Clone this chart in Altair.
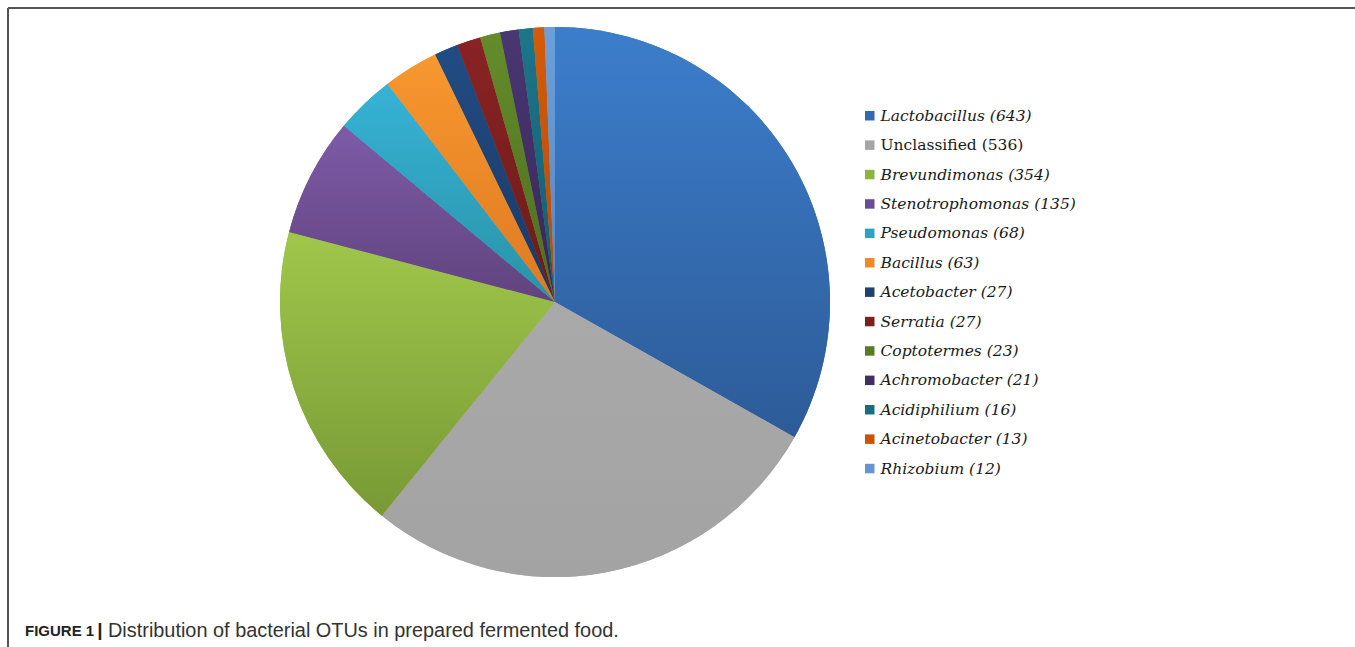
import math
import altair as alt
import pandas as pd

names = ["Lactobacillus", "Unclassified", "Brevundimonas", "Stenotrophomonas",
         "Pseudomonas", "Bacillus", "Acetobacter", "Serratia", "Coptotermes",
         "Achromobacter", "Acidiphilium", "Acinetobacter", "Rhizobium"]
counts = [643, 536, 354, 135, 68, 63, 27, 27, 23, 21, 16, 13, 12]
legend_colors = ["#3468B3", "#A5A5A5", "#8DB43F", "#6A4B94", "#2FA2C4", "#EE8A2A",
                 "#1E426F", "#7D1F1F", "#587C26", "#422F62", "#1A6C7E", "#C95309",
                 "#6596D2"]
top_colors = ["#3C7ECC", "#A9A9A9", "#A0C74B", "#7D5BA8", "#36B3D6", "#F8982F",
              "#214C84", "#8A2323", "#648C2B", "#4A3672", "#1C768A", "#D45B0A",
              "#6BA0DB"]
bottom_colors = ["#2D5B98", "#A3A3A3", "#789935", "#61437E", "#2A92A8", "#DE7922",
                 "#1A3964", "#6D1A1A", "#4E6E1F", "#392756", "#155C6C", "#B64C08",
                 "#5986BE"]

labels = [f"{n} ({c})" for n, c in zip(names, counts)]
df = pd.DataFrame({"label": labels, "count": counts, "order": list(range(len(names)))})

CX, CY, R = 555, 302, 275

base = (
    alt.Chart(df)
    .transform_joinaggregate(total="sum(count)")
    .transform_window(cum="sum(count)", sort=[alt.SortField("order")], frame=[None, 0])
    .transform_calculate(t0="(datum.cum - datum.count) / datum.total",
                         t1="datum.cum / datum.total")
)
theta_scale = alt.Scale(domain=[0, 1], range=[0, 2 * math.pi])

solid = base.mark_arc(outerRadius=R).encode(
    theta=alt.Theta("t0:Q", scale=theta_scale, stack=False),
    theta2="t1:Q",
    color=alt.Color(
        "label:N",
        scale=alt.Scale(domain=labels, range=legend_colors),
        legend=alt.Legend(
            title=None, orient="none", legendX=862, legendY=108,
            symbolType="square", symbolSize=90, symbolStrokeWidth=0,
            labelFont="DejaVu Serif", labelFontSize=15.5, labelColor="#1a1a1a",
            labelFontStyle=alt.ExprRef(expr="indexof(datum.label, 'Unclassified') == 0 ? 'normal' : 'italic'"),
            labelOffset=3, rowPadding=12.4, labelLimit=400, padding=0,
        ),
    ),
    x=alt.value(CX), y=alt.value(CY),
)

grads = []
for i in range(len(names)):
    g = alt.LinearGradient(
        gradient="linear", x1=0, x2=0, y1=0, y2=1,
        stops=[alt.GradientStop(offset=0, color=top_colors[i]),
               alt.GradientStop(offset=1, color=bottom_colors[i])],
    )
    grads.append(
        base.transform_filter(alt.datum.order == i)
        .mark_arc(outerRadius=R, fill=g)
        .encode(theta=alt.Theta("t0:Q", scale=theta_scale, stack=False),
                theta2="t1:Q", x=alt.value(CX), y=alt.value(CY))
    )

one = pd.DataFrame({"a": [0]})
cap_bold = alt.Chart(one).mark_text(
    text="FIGURE 1", font="Liberation Sans", fontSize=15,
    fontWeight="bold", align="left", baseline="middle", color="#222222",
).encode(x=alt.value(25), y=alt.value(631))
cap_bar = alt.Chart(one).mark_text(
    text="|", font="Liberation Sans", fontSize=19,
    fontWeight="bold", align="center", baseline="middle", color="#222222",
).encode(x=alt.value(100), y=alt.value(630))
cap_text = alt.Chart(one).mark_text(
    text="Distribution of bacterial OTUs in prepared fermented food.",
    font="Liberation Sans", fontSize=19.9, align="left", baseline="middle", color="#333333",
).encode(x=alt.value(108), y=alt.value(631))

rule_top = alt.Chart(one).mark_rule(color="#555555", strokeWidth=2).encode(
    x=alt.value(8), x2=alt.value(1355), y=alt.value(8))
rule_left = alt.Chart(one).mark_rule(color="#555555", strokeWidth=2).encode(
    x=alt.value(8), y=alt.value(8), y2=alt.value(647))

chart = alt.layer(solid, *grads, cap_bold, cap_bar, cap_text, rule_top, rule_left).properties(
    width=1355, height=647, padding=0, autosize="none", background="white"
).configure_view(stroke=None)

chart.save("out.html", embed_options={"renderer": "svg", "actions": False})
